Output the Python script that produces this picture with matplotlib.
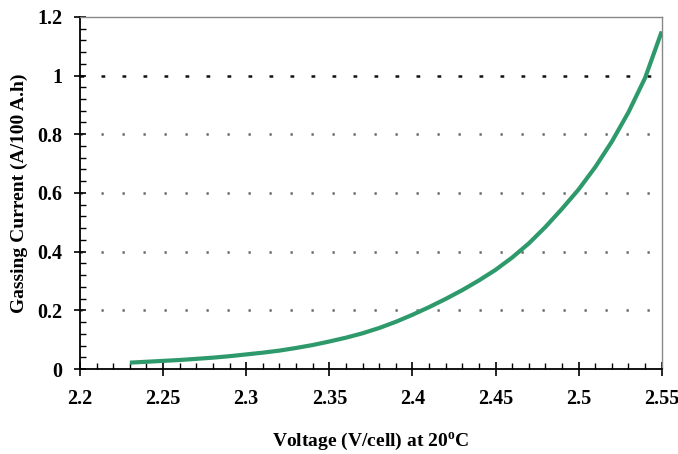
import matplotlib
matplotlib.use("Agg")
import matplotlib.pyplot as plt
from matplotlib.ticker import MultipleLocator, FixedLocator

voltage = [2.23, 2.24, 2.25, 2.26, 2.27, 2.28, 2.29, 2.30, 2.31, 2.32, 2.33,
           2.34, 2.35, 2.36, 2.37, 2.38, 2.39, 2.40, 2.41, 2.42, 2.43, 2.44,
           2.45, 2.46, 2.47, 2.48, 2.49, 2.50, 2.51, 2.52, 2.53, 2.54, 2.55]
current = [0.022, 0.025, 0.028, 0.031, 0.035, 0.039, 0.044, 0.050, 0.056, 0.063, 0.072,
           0.082, 0.094, 0.107, 0.122, 0.140, 0.161, 0.185, 0.211, 0.239, 0.269, 0.302,
           0.338, 0.380, 0.428, 0.484, 0.546, 0.612, 0.688, 0.775, 0.875, 0.992, 1.150]

x_ticks = [2.2, 2.25, 2.3, 2.35, 2.4, 2.45, 2.5, 2.55]
x_labels = ["2.2", "2.25", "2.3", "2.35", "2.4", "2.45", "2.5", "2.55"]
y_ticks = [0, 0.2, 0.4, 0.6, 0.8, 1.0, 1.2]
y_labels = ["0", "0.2", "0.4", "0.6", "0.8", "1", "1.2"]

plt.rcParams['font.family'] = ['Liberation Serif', 'DejaVu Serif']
plt.rcParams['font.weight'] = 'bold'
plt.rcParams['mathtext.fontset'] = 'custom'
plt.rcParams['mathtext.rm'] = 'Liberation Serif:bold'
plt.rcParams['mathtext.bf'] = 'Liberation Serif:bold'

fig = plt.figure(figsize=(6.78, 4.54), dpi=100)
ax = fig.add_axes([0.118, 0.187, 0.858, 0.776])

# grid lines
for yv in y_ticks[1:-1]:
    if yv == 1.0:
        ax.axhline(yv, color='#111111', linewidth=1.8, linestyle=(0, (1.5, 6.9)), zorder=1)
    else:
        ax.axhline(yv, color='#666666', linewidth=1.8, linestyle=(0, (0.9, 7.5)), zorder=1)

ax.plot(voltage, current, color='#2e9a6c', linewidth=3.0, solid_capstyle='butt',
        solid_joinstyle='round', zorder=3)

ax.set_xlim(2.2, 2.55)
ax.set_ylim(0, 1.2)
ax.xaxis.set_major_locator(FixedLocator(x_ticks))
ax.set_xticklabels(x_labels)
ax.xaxis.set_minor_locator(MultipleLocator(0.01))
ax.yaxis.set_major_locator(FixedLocator(y_ticks))
ax.set_yticklabels(y_labels)
ax.yaxis.set_minor_locator(MultipleLocator(0.04))

ax.tick_params(axis='x', which='major', direction='inout', length=10, width=1.2,
               pad=9, labelsize=14.5, colors='black')
ax.tick_params(axis='x', which='minor', direction='in', length=4, width=1.0)
ax.tick_params(axis='y', which='major', direction='inout', length=9, width=1.2,
               pad=8, labelsize=14.5)
ax.tick_params(axis='y', which='minor', direction='in', length=4, width=1.0)

for s in ['left', 'bottom']:
    ax.spines[s].set_color('black')
    ax.spines[s].set_linewidth(1.3)
for s in ['top', 'right']:
    ax.spines[s].set_color('#888888')
    ax.spines[s].set_linewidth(1.0)

ax.set_xlabel(r'Voltage (V/cell) at 20$^{\mathrm{o}}$C', fontsize=14, fontweight='bold', labelpad=16)
ax.set_ylabel('Gassing Current (A/100 A.h)', fontsize=14, fontweight='bold', labelpad=7)

fig.savefig('out.png', dpi=100)
